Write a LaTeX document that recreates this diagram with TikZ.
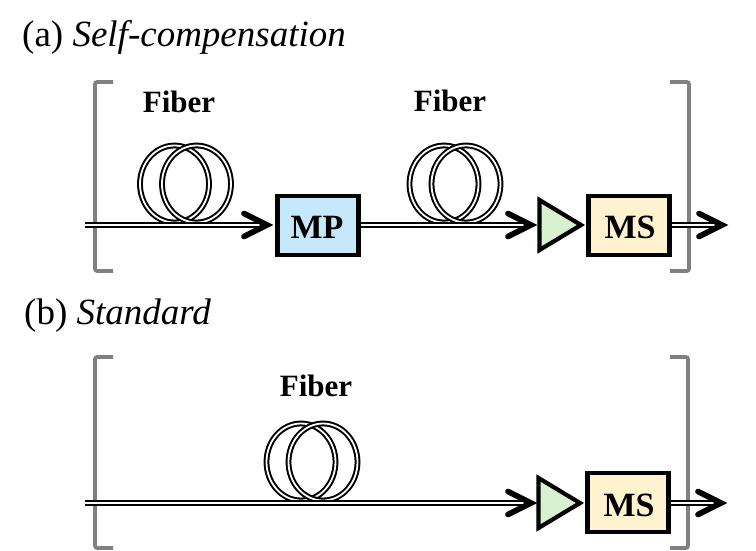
\documentclass[tikz,border=0pt]{standalone}
\usepackage{fontspec}
\setmainfont{Liberation Serif}
\begin{document}
\begin{tikzpicture}[x=1pt,y=-1pt,
  fibreline/.style={line width=2pt,double=white,double distance=1.8pt,draw=black},
  brack/.style={draw=black!50,line width=3.6pt,rounded corners=2pt},
  chevron/.style={draw=black,line width=5.6pt,line cap=round,line join=miter},
  boxmp/.style={draw=black,line width=4.4pt,fill=mpfill,minimum width=81pt,minimum height=59pt,inner sep=0pt},
  boxms/.style={draw=black,line width=4.4pt,fill=msfill,minimum width=81pt,minimum height=58.5pt,inner sep=0pt},
  amp/.style={draw=black,line width=4.2pt,fill=ampfill,line join=miter},
  lab/.style={font=\fontsize{31}{31}\selectfont\bfseries,anchor=base,inner sep=0pt},
  boxlab/.style={font=\fontsize{34}{34}\selectfont\bfseries,anchor=base,inner sep=0pt},
  ttl/.style={font=\fontsize{37}{37}\selectfont,anchor=base west,inner sep=0pt}]
\definecolor{mpfill}{HTML}{C5E9FB}
\definecolor{msfill}{HTML}{FFF2CF}
\definecolor{ampfill}{HTML}{D8F2CF}
\useasboundingbox (0,0) rectangle (756,551);
\newcommand{\coil}[2]{%
  \draw[fibreline] (#1-11,#2) ellipse [x radius=34.5,y radius=38.5];
  \draw[fibreline] (#1+11,#2) ellipse [x radius=34.5,y radius=38.5];}
\newcommand{\headat}[1]{\draw[chevron] ([shift={(-23,-11.5)}]#1) -- (#1) -- ([shift={(-23,11.5)}]#1);}
% panel a
\node[ttl] (ta) at (22,47) {(a) \textit{Self-compensation}};
\draw[brack] (113,82) -- (95,82) -- (95,271) -- (113,271);
\draw[brack] (670,82) -- (689,82) -- (689,271) -- (670,271);
\node[lab] (fa1) at (179,113) {Fiber};
\node[lab] (fa2) at (450,112) {Fiber};
\coil{185.5}{184}
\coil{455}{184}
\node[boxmp] (mp) at (318,225.5) {};
\node[boxlab] at (317,238) {MP};
\node[boxms] (msa) at (629,225.5) {};
\node[boxlab] at (630,238) {MS};
\coordinate (ina) at (85,225);
\coordinate (tipa1) at (267,225);
\coordinate (tipa2) at (531,225);
\coordinate (tipa3) at (722,225);
\draw[fibreline] (ina) -- (tipa1);
\draw[fibreline] (tipa2 -| mp.east) -- (tipa2);
\draw[fibreline] (tipa3 -| msa.east) -- (tipa3);
\draw[amp] (539.5,200) -- (581,225) -- (539.5,250) -- cycle;
\headat{tipa1}
\headat{tipa2}
\headat{tipa3}
% panel b
\node[ttl] (tb) at (24,324) {(b) \textit{Standard}};
\draw[brack] (113,357) -- (95,357) -- (95,548) -- (113,548);
\draw[brack] (670,357) -- (688,357) -- (688,548) -- (670,548);
\node[lab] (fb) at (316,396) {Fiber};
\coil{312}{462}
\node[boxms] (msb) at (628,502.5) {};
\node[boxlab] at (629,516) {MS};
\coordinate (inb) at (85,503);
\coordinate (tipb1) at (531,503);
\coordinate (tipb2) at (721,503);
\draw[fibreline] (inb) -- (tipb1);
\draw[fibreline] (tipb2 -| msb.east) -- (tipb2);
\draw[amp] (538.5,478) -- (580,503) -- (538.5,528) -- cycle;
\headat{tipb1}
\headat{tipb2}
\end{tikzpicture}
\end{document}
